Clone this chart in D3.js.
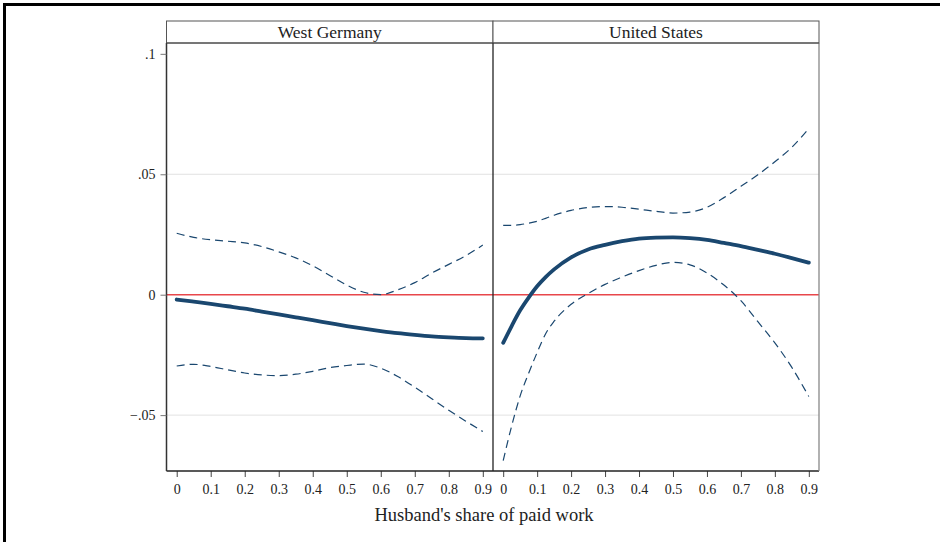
<!DOCTYPE html>
<html>
<head>
<meta charset="utf-8">
<script src="https://cdn.jsdelivr.net/npm/d3@7"></script>
<style>
  html, body { margin: 0; padding: 0; background: #fff; }
  svg { display: block; }
  text { font-family: "Liberation Serif", "Times New Roman", serif; fill: #222; }
</style>
</head>
<body>
<svg id="chart" width="940" height="542"></svg>
<script>
// ---- Data ----
const panels = ["West Germany", "United States"];
const xTicks = [0, 0.1, 0.2, 0.3, 0.4, 0.5, 0.6, 0.7, 0.8, 0.9];
const yTicks = [-0.05, 0, 0.05, 0.1];
const yTickLabels = ["\u2212.05", "0", ".05", ".1"];
const gridTicks = [-0.05, 0.05];
const xTitle = "Husband's share of paid work";

const xGridWG = [0, 0.05, 0.1, 0.15, 0.2, 0.25, 0.3, 0.35, 0.4, 0.45, 0.5, 0.55, 0.6, 0.65, 0.7, 0.75, 0.8, 0.85, 0.9];
const wgEstimate = [-0.0020, -0.0029, -0.0038, -0.0048, -0.0058, -0.0070, -0.0082, -0.0094, -0.0106, -0.0118, -0.0130, -0.0141, -0.0151, -0.0160, -0.0167, -0.0173, -0.0177, -0.0180, -0.0181];
const wgUpper = [0.0255, 0.0238, 0.0228, 0.0222, 0.0215, 0.0200, 0.0178, 0.0153, 0.0120, 0.0080, 0.0040, 0.0010, 0.0000, 0.0020, 0.0050, 0.0090, 0.0126, 0.0162, 0.0206];
const wgLower = [-0.0296, -0.0289, -0.0298, -0.0312, -0.0325, -0.0333, -0.0336, -0.0330, -0.0318, -0.0303, -0.0294, -0.0288, -0.0305, -0.0340, -0.0384, -0.0432, -0.0480, -0.0525, -0.0568];

const xGridUS = [0, 0.025, 0.05, 0.075, 0.1, 0.125, 0.15, 0.2, 0.25, 0.3, 0.35, 0.4, 0.45, 0.5, 0.55, 0.6, 0.65, 0.7, 0.75, 0.8, 0.85, 0.9];
const usEstimate = [-0.0200, -0.0130, -0.0065, -0.0012, 0.0035, 0.0073, 0.0105, 0.0155, 0.0188, 0.0207, 0.0222, 0.0233, 0.0237, 0.0238, 0.0235, 0.0228, 0.0215, 0.0202, 0.0186, 0.0170, 0.0152, 0.0133];
const usUpper = [0.0288, 0.0288, 0.0291, 0.0297, 0.0305, 0.0317, 0.0330, 0.0350, 0.0362, 0.0366, 0.0363, 0.0355, 0.0346, 0.0339, 0.0343, 0.0363, 0.0403, 0.0450, 0.0498, 0.0552, 0.0612, 0.0690];
const usLower = [-0.0689, -0.0545, -0.0420, -0.0326, -0.0240, -0.0162, -0.0110, -0.0040, 0.0005, 0.0043, 0.0073, 0.0100, 0.0122, 0.0134, 0.0124, 0.0090, 0.0040, -0.0025, -0.0112, -0.0200, -0.0302, -0.0423];

const panelData = [
  { name: panels[0], xs: xGridWG, est: wgEstimate, up: wgUpper, lo: wgLower },
  { name: panels[1], xs: xGridUS, est: usEstimate, up: usUpper, lo: usLower }
];

// ---- Layout ----
const svg = d3.select("#chart");
const plotTop = 43, plotBottom = 471, stripTop = 21;
const panelEdges = [166.5, 493, 819];
const navy = "#1a476f";
const red = "#e8474b";

// outer frame
svg.append("rect").attr("x", 4.5).attr("y", 4.5).attr("width", 960).attr("height", 560)
  .attr("fill", "none").attr("stroke", "#000").attr("stroke-width", 3);

const y = d3.scaleLinear().domain([-0.0732, 0.1045]).range([plotBottom, plotTop]);

panelData.forEach((p, i) => {
  const x0 = panelEdges[i], x1 = panelEdges[i + 1];
  const x = d3.scaleLinear().domain([-0.03, 0.93]).range([x0, x1]);
  const g = svg.append("g");

  // gridlines
  g.selectAll("line.grid").data(gridTicks).join("line")
    .attr("x1", x0).attr("x2", x1)
    .attr("y1", d => y(d)).attr("y2", d => y(d))
    .attr("stroke", "#e2e2e2").attr("stroke-width", 1);

  // zero reference line
  g.append("line").attr("x1", x0).attr("x2", x1)
    .attr("y1", y(0)).attr("y2", y(0))
    .attr("stroke", red).attr("stroke-width", 1.6);

  const line = (vals) => d3.line()
    .x((d, k) => x(p.xs[k]))
    .y(d => y(d))
    .curve(d3.curveMonotoneX)(vals);

  g.append("path").attr("d", line(p.up)).attr("fill", "none")
    .attr("stroke", navy).attr("stroke-width", 1.2).attr("stroke-dasharray", "8,5");
  g.append("path").attr("d", line(p.lo)).attr("fill", "none")
    .attr("stroke", navy).attr("stroke-width", 1.2).attr("stroke-dasharray", "8,5");
  g.append("path").attr("d", line(p.est)).attr("fill", "none")
    .attr("stroke", navy).attr("stroke-width", 3.8).attr("stroke-linecap", "round");

  // x axis
  const xAxis = d3.axisBottom(x).tickValues(xTicks).tickSize(6).tickPadding(7)
    .tickFormat(d => d === 0 ? "0" : d3.format(".1f")(d));
  const ax = svg.append("g").attr("transform", `translate(0,${plotBottom})`).call(xAxis);
  ax.select(".domain").remove();
  ax.selectAll(".tick line").attr("stroke", "#444");
  ax.selectAll(".tick text").attr("font-size", 14).attr("fill", "#222")
    .attr("font-family", "Liberation Serif, serif");

  // panel strip
  svg.append("rect").attr("x", x0).attr("y", stripTop).attr("width", x1 - x0).attr("height", plotTop - stripTop)
    .attr("fill", "#fff").attr("stroke", "#555").attr("stroke-width", 1);
  svg.append("text").attr("x", (x0 + x1) / 2).attr("y", stripTop + 16.5)
    .attr("text-anchor", "middle").attr("font-size", 17.5).text(p.name);
});

// panel frames
svg.append("line").attr("x1", panelEdges[0]).attr("x2", panelEdges[2]).attr("y1", plotBottom).attr("y2", plotBottom)
  .attr("stroke", "#222").attr("stroke-width", 1.5);
svg.append("line").attr("x1", panelEdges[0]).attr("x2", panelEdges[0]).attr("y1", plotTop).attr("y2", plotBottom)
  .attr("stroke", "#333").attr("stroke-width", 1.5);
svg.append("line").attr("x1", panelEdges[1]).attr("x2", panelEdges[1]).attr("y1", plotTop).attr("y2", plotBottom)
  .attr("stroke", "#222").attr("stroke-width", 1.3);
svg.append("line").attr("x1", panelEdges[2]).attr("x2", panelEdges[2]).attr("y1", plotTop).attr("y2", plotBottom)
  .attr("stroke", "#888").attr("stroke-width", 1.3);
svg.append("line").attr("x1", panelEdges[0]).attr("x2", panelEdges[2]).attr("y1", plotTop).attr("y2", plotTop)
  .attr("stroke", "#444").attr("stroke-width", 1.2);

// y axis
const yAxis = d3.axisLeft(y).tickValues(yTicks).tickSize(6).tickPadding(5)
  .tickFormat((d, k) => yTickLabels[k]);
const ay = svg.append("g").attr("transform", `translate(${panelEdges[0]},0)`).call(yAxis);
ay.select(".domain").remove();
ay.selectAll(".tick line").attr("stroke", "#777");
ay.selectAll(".tick text").attr("font-size", 14).attr("fill", "#222")
  .attr("font-family", "Liberation Serif, serif");

// x title
svg.append("text").attr("x", 484).attr("y", 521).attr("text-anchor", "middle")
  .attr("font-size", 18.5).text(xTitle);
</script>
</body>
</html>
